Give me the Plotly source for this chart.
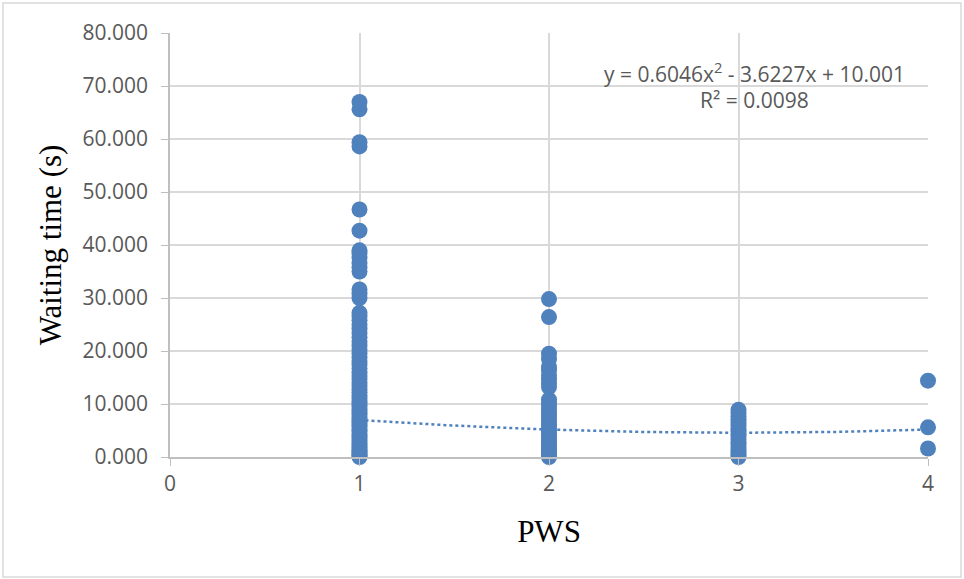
import plotly.graph_objects as go
import numpy as np

# PWS categories and waiting times (s)
pws1 = [0.0, 0.2, 0.5, 0.8, 1.1, 1.4, 1.8, 2.2, 2.6, 3.0, 3.4, 3.9, 4.3, 4.8, 5.2, 5.7, 6.1,
        6.6, 7.0, 7.5, 8.0, 8.5, 9.0, 9.5, 10.0, 10.5, 11.0, 11.6, 12.2, 12.8, 13.4, 14.0,
        14.7, 15.3, 16.0, 16.7, 17.4, 18.1, 18.8, 19.5, 20.3, 21.0, 21.8, 22.6, 23.4, 24.2,
        25.0, 25.8, 26.5, 27.2, 30.0, 30.8, 31.6, 35.0, 35.8, 36.6, 37.6, 38.5, 39.0,
        42.7, 46.7, 58.6, 59.4, 65.6, 67.0]
pws2 = [0.0, 0.3, 0.7, 1.1, 1.5, 2.0, 2.5, 3.0, 3.5, 4.0, 4.5, 5.0, 5.5, 6.0, 6.6, 7.2,
        7.8, 8.4, 9.0, 9.6, 10.2, 10.8, 13.2, 13.9, 14.6, 15.4, 16.3, 17.0, 18.5, 19.5,
        26.4, 29.8]
pws3 = [0.0, 0.4, 0.8, 1.3, 1.8, 2.3, 2.8, 3.3, 3.8, 4.3, 4.8, 5.3, 5.9, 6.5, 7.1, 7.7,
        8.3, 8.9]
pws4 = [1.6, 5.6, 14.4]

x_vals = [1] * len(pws1) + [2] * len(pws2) + [3] * len(pws3) + [4] * len(pws4)
y_vals = pws1 + pws2 + pws3 + pws4

# polynomial trendline coefficients shown in the chart
coef_a, coef_b, coef_c = 0.6046, -3.6227, 10.001
r_squared = 0.0098

y_ticks = [0, 10, 20, 30, 40, 50, 60, 70, 80]
x_ticks = [0, 1, 2, 3, 4]

blue = "#4F81BD"
grid = "#D9D9D9"
txt = "#595959"
sans = "Open Sans, Liberation Sans"
serif = "Liberation Serif, Times New Roman"

fig = go.Figure()
fig.add_trace(go.Scatter(
    x=x_vals, y=y_vals, mode="markers",
    marker=dict(size=16, color=blue),
    cliponaxis=False, showlegend=False,
))

tx = np.linspace(1, 4, 100)
ty = coef_a * tx ** 2 + coef_b * tx + coef_c
fig.add_trace(go.Scatter(
    x=tx, y=ty, mode="lines",
    line=dict(color=blue, width=2.5, dash="dot"),
    showlegend=False, cliponaxis=False,
))

fig.add_annotation(
    x=3.087, y=72.6, xref="x", yref="y", showarrow=False,
    text=f"y = {coef_a}x<sup>2</sup> - {abs(coef_b)}x + {coef_c:.3f}",
    font=dict(family=sans, size=21, color=txt),
    xanchor="center", yanchor="middle",
)
fig.add_annotation(
    x=3.087, y=67.4, xref="x", yref="y", showarrow=False,
    text=f"R² = {r_squared}",
    font=dict(family=sans, size=21, color=txt),
    xanchor="center", yanchor="middle",
)

# outer chart border
fig.add_shape(type="rect", xref="paper", yref="paper",
              x0=(3 - 170) / 758, x1=(961 - 170) / 758,
              y0=(457 - 577) / 424, y1=(457 - 3) / 424,
              line=dict(color="#D9D9D9", width=1.5), layer="below")

fig.update_layout(
    width=964, height=579,
    margin=dict(l=170, r=36, t=33, b=122),
    paper_bgcolor="white", plot_bgcolor="white",
    font=dict(family=sans, color=txt),
    xaxis=dict(
        range=[0, 4], tickvals=x_ticks, ticktext=[str(v) for v in x_ticks],
        showgrid=True, gridcolor=grid, gridwidth=1.5,
        showline=True, linecolor="#BFBFBF", linewidth=1.5,
        ticks="outside", ticklen=7, tickcolor="#BFBFBF",
        zeroline=False, tickfont=dict(size=21, color=txt),
        title=dict(text="PWS", font=dict(family=serif, size=31, color="black"),
                   standoff=24),
    ),
    yaxis=dict(
        range=[0, 80], tickvals=y_ticks, ticktext=[f"{v:.3f}" for v in y_ticks],
        showgrid=True, gridcolor=grid, gridwidth=1.5,
        showline=True, linecolor="#BFBFBF", linewidth=1.5,
        ticks="outside", ticklen=7, tickcolor="#BFBFBF", ticklabelstandoff=9,
        zeroline=False, tickfont=dict(size=21, color=txt),
        title=dict(text="Waiting time (s)", font=dict(family=serif, size=31, color="black"),
                   standoff=12),
    ),
)

fig.write_html("out.html", config={"displayModeBar": False},
               post_script="document.body.style.margin='0';")
